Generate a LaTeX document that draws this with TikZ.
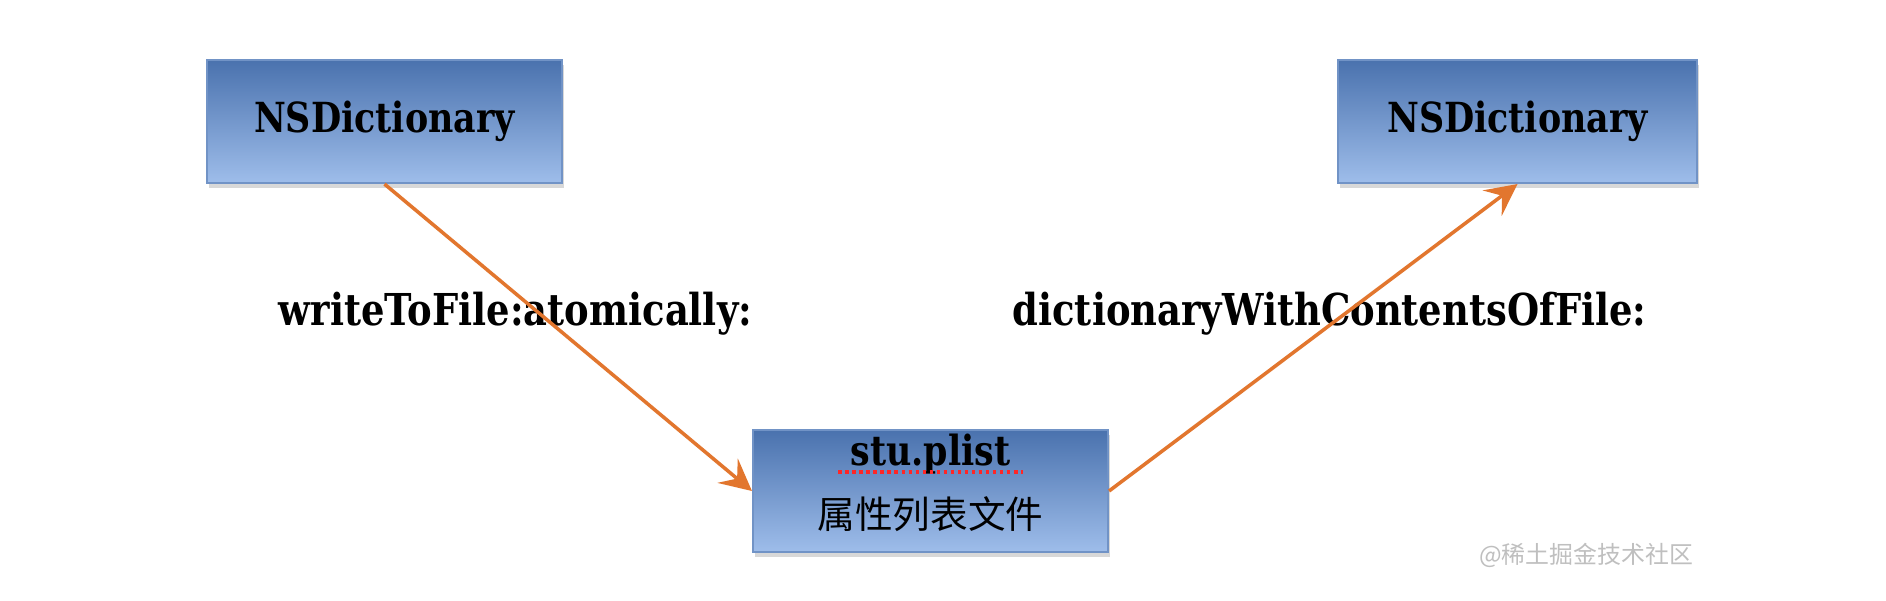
\documentclass[tikz,border=0pt]{standalone}
\usepackage{fontspec}
\usetikzlibrary{arrows.meta,shadows}
\newfontfamily\slabfont{DejaVu Serif}[FakeStretch=0.84]
\newfontfamily\cjk{Noto Sans CJK SC}
\definecolor{boxtop}{HTML}{4A72AE}
\definecolor{boxbottom}{HTML}{9EBDEA}
\definecolor{boxline}{HTML}{7193C6}
\definecolor{arroworange}{HTML}{E2762E}
\tikzset{
	classbox/.style={draw=boxline, line width=0.6pt, top color=boxtop, bottom color=boxbottom,
		minimum width=3.55cm, minimum height=1.23cm,
		drop shadow={opacity=0.3, shadow xshift=0.02cm, shadow yshift=-0.05cm},
		font=\slabfont\bfseries\fontsize{11.8}{14}\selectfont},
	methodlabel/.style={anchor=base, font=\slabfont\bfseries\fontsize{12.5}{15}\selectfont},
	flow/.style={draw=arroworange, line width=1pt, -{Stealth[length=9pt,width=9pt,inset=3.5pt]}},
}

\begin{document}
\begin{tikzpicture}
			%%%%% START %%%%%
			\fill[white] (0, 0) rectangle (18.86, 6);
			\useasboundingbox (0, 0) rectangle (18.86, 6);
			
			% the three boxes
			\node[classbox] (dictA) at (3.845, 4.785) {NSDictionary};
			\node[classbox, minimum width=3.59cm] (dictB) at (15.175, 4.785) {NSDictionary};
			\node[classbox, minimum height=1.22cm] (plist) at (9.305, 1.09) {};
			
			\node[anchor=base, font=\slabfont\bfseries\fontsize{11.8}{14}\selectfont] (plistname) at ([yshift=0.26cm]plist.center) {stu.plist};
			\draw[red!85, densely dotted, line width=1pt] ([yshift=-0.07cm]plistname.base west) -- ([yshift=-0.07cm]plistname.base east);
			\node[font=\cjk\fontsize{10.7}{13}\selectfont] (plistkind) at ([yshift=-0.23cm]plist.center) {属性列表文件};
			
			% method names
			\node[methodlabel] (writelabel) at (5.155, 2.75) {writeToFile:atomically:};
			\node[methodlabel] (readlabel) at (13.295, 2.75) {dictionaryWithContentsOfFile:};
			
			% arrows
			\draw[flow] (dictA.south) -- (plist.west);
			\draw[flow] (plist.east) -- (dictB.south);
			
			\node[font=\cjk\fontsize{6.8}{8}\selectfont, text=gray!50] (mark) at (15.86, 0.45) {@稀土掘金技术社区};
			%%%%% END %%%%%
\end{tikzpicture}
\end{document}
